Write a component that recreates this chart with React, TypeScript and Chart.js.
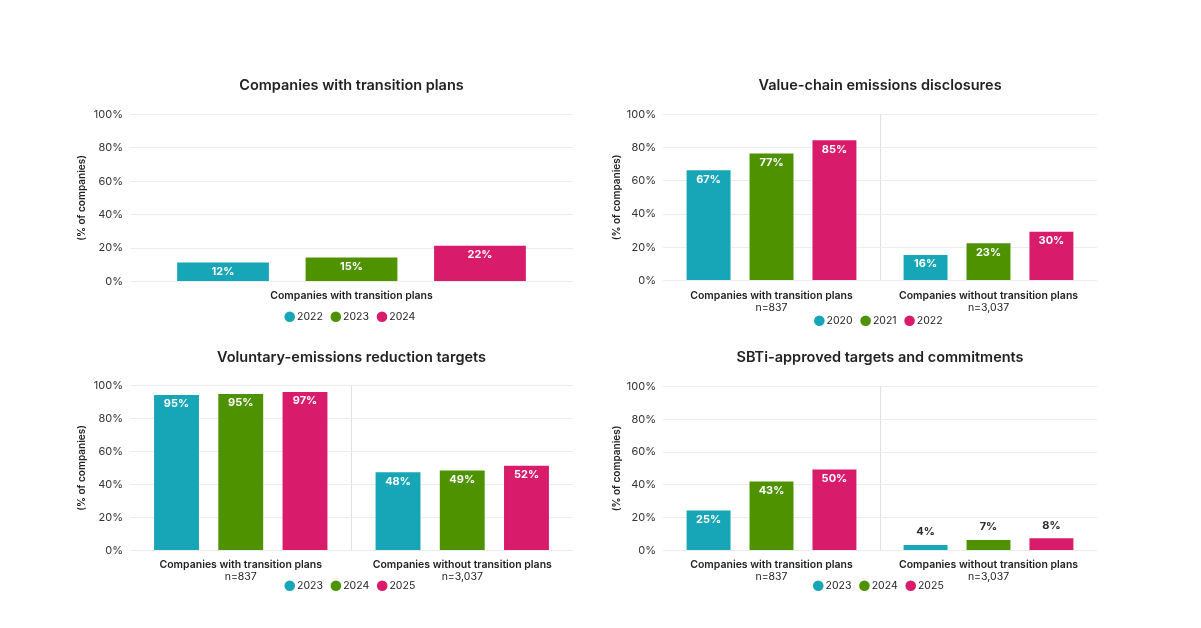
import React, { useEffect, useRef } from 'react';
import { Chart, registerables } from 'chart.js';
import type { Plugin } from 'chart.js';

Chart.register(...registerables);
Chart.defaults.font.family = 'Inter, "Noto Sans", sans-serif';

// colours per year slot (first, second, third year)
const yearColors = ['#17A5B8', '#4E9200', '#D81B6A'];
const yTicks = [0, 20, 40, 60, 80, 100];

const oneCategory = ['Companies with transition plans'];
const twoCategories = ['Companies with transition plans', 'Companies without transition plans'];
const sampleSizes = ['n=837', 'n=3,037'];

// Companies with transition plans
const plansYears = ['2022', '2023', '2024'];
const plans2022 = [12];
const plans2023 = [15];
const plans2024 = [22];

// Value-chain emissions disclosures
const valueChainYears = ['2020', '2021', '2022'];
const valueChain2020 = [67, 16];
const valueChain2021 = [77, 23];
const valueChain2022 = [85, 30];

// Voluntary-emissions reduction targets
const reductionYears = ['2023', '2024', '2025'];
const reduction2023 = [94.8, 48];
const reduction2024 = [95.4, 49];
const reduction2025 = [96.6, 52];

// SBTi-approved targets and commitments
const sbtiYears = ['2023', '2024', '2025'];
const sbti2023 = [25, 4];
const sbti2024 = [42.6, 7];
const sbti2025 = [50, 8];

const valueLabels: Plugin<'bar'> = {
    id: 'valueLabels',
    afterDatasetsDraw(chart) {
        const ctx = chart.ctx;
        ctx.save();
        ctx.font = 'bold 11px Inter, sans-serif';
        ctx.textAlign = 'center';
        ctx.textBaseline = 'middle';
        chart.data.datasets.forEach((ds, i) => {
            chart.getDatasetMeta(i).data.forEach((bar: any, j) => {
                const v = ds.data[j] as number;
                const inside = v >= 10;
                ctx.fillStyle = inside ? '#ffffff' : '#2b2b2b';
                ctx.fillText(Math.round(v) + '%', bar.x, inside ? bar.y + 10 : bar.y - 12);
            });
        });
        ctx.restore();
    }
};

// two-line category labels: bold name, plain sample size
const categoryLabels: Plugin<'bar'> = {
    id: 'categoryLabels',
    afterDraw(chart, _args, opts: any) {
        const ctx = chart.ctx;
        const x = chart.scales.x;
        ctx.save();
        ctx.textAlign = 'center';
        ctx.textBaseline = 'middle';
        ctx.fillStyle = '#222';
        (opts.names as string[]).forEach((name, i) => {
            const px = x.getPixelForTick(i);
            ctx.font = '600 10.5px Inter, sans-serif';
            ctx.fillText(name, px, x.top + opts.first);
            if (opts.notes && opts.notes[i]) {
                ctx.font = '10.5px Inter, sans-serif';
                ctx.fillText(opts.notes[i], px, x.top + opts.first + 12);
            }
        });
        ctx.restore();
    }
};

interface PanelProps {
    title: string;
    categories: string[];
    notes?: string[];
    years: string[];
    series: number[][];
    left: number; top: number; width: number; height: number;
    titleTop: number; titleBottom: number;
    yWidth: number; yTitlePad: number;
    xHeight: number; labelOffset: number;
}

const Panel: React.FC<PanelProps> = (p) => {
    const canvasRef = useRef<HTMLCanvasElement | null>(null);

    useEffect(() => {
        const ctx = canvasRef.current?.getContext('2d');
        if (!ctx) return;
        const n = p.categories.length;
        const chart = new Chart(ctx, {
            type: 'bar',
            data: {
                labels: p.categories,
                datasets: p.years.map((y, i) => ({
                    label: y,
                    data: p.series[i],
                    backgroundColor: yearColors[i],
                    borderColor: 'rgba(255,255,255,0.35)',
                    borderWidth: 1,
                    categoryPercentage: 0.87,
                    barPercentage: 0.73
                }))
            },
            options: {
                animation: false,
                responsive: true,
                maintainAspectRatio: false,
                layout: { padding: 0 },
                plugins: {
                    title: {
                        display: true,
                        text: p.title,
                        color: '#222',
                        font: { size: 14.5, weight: 600 },
                        padding: { top: p.titleTop, bottom: p.titleBottom }
                    },
                    legend: {
                        position: 'bottom',
                        labels: {
                            usePointStyle: true,
                            pointStyle: 'circle',
                            boxWidth: 4,
                            boxHeight: 7.5,
                            padding: 11,
                            color: '#222',
                            font: { size: 10.5 },
                            generateLabels: (c) =>
                                Chart.defaults.plugins.legend.labels.generateLabels(c).map(l => ({
                                    ...l, lineWidth: 0, strokeStyle: l.fillStyle as string
                                }))
                        }
                    },
                    tooltip: { enabled: false },
                    categoryLabels: { names: p.categories, notes: p.notes, first: p.labelOffset }
                } as any,
                scales: {
                    x: {
                        ticks: { display: false },
                        border: { display: false },
                        grid: {
                            drawTicks: false,
                            color: (c: any) => (c.index > 0 && c.index < n ? '#e2dfe1' : 'transparent')
                        },
                        afterFit: (s: any) => { s.height = p.xHeight; }
                    },
                    y: {
                        min: 0,
                        max: 100,
                        afterBuildTicks: (s: any) => { s.ticks = yTicks.map(v => ({ value: v })); },
                        ticks: {
                            padding: 7,
                            color: '#333',
                            font: { size: 11 },
                            callback: (v: any) => v + '%'
                        },
                        border: { display: false },
                        grid: { drawTicks: false, color: '#ececec' },
                        title: {
                            display: true,
                            text: '(% of companies)',
                            color: '#222',
                            font: { size: 10, weight: 600 },
                            padding: { top: p.yTitlePad, bottom: 0 }
                        },
                        afterFit: (s: any) => { s.width = p.yWidth; }
                    },
                    // empty spacer on the right so title and legend centre on the plot
                    spacer: {
                        type: 'linear',
                        position: 'right',
                        ticks: { display: false },
                        grid: { display: false },
                        border: { display: false },
                        afterFit: (s: any) => { s.width = p.yWidth; }
                    }
                }
            } as any,
            plugins: [valueLabels, categoryLabels]
        });
        return () => chart.destroy();
    }, []);

    return (
        <div style={{ position: 'absolute', left: p.left, top: p.top, width: p.width, height: p.height }}>
            <canvas ref={canvasRef} />
        </div>
    );
};

const App: React.FC = () => {
    return (
        <div style={{ position: 'fixed', left: 0, top: 0, width: 1201, height: 628, background: '#fff' }}>
            <Panel
                title="Companies with transition plans"
                categories={oneCategory}
                years={plansYears}
                series={[plans2022, plans2023, plans2024]}
                left={60} top={61} width={583} height={271}
                titleTop={16} titleBottom={20}
                yWidth={70} yTitlePad={16}
                xHeight={19} labelOffset={14}
            />
            <Panel
                title="Value-chain emissions disclosures"
                categories={twoCategories}
                notes={sampleSizes}
                years={valueChainYears}
                series={[valueChain2020, valueChain2021, valueChain2022]}
                left={600} top={61} width={560} height={275}
                titleTop={16} titleBottom={20}
                yWidth={63} yTitlePad={11}
                xHeight={24} labelOffset={15}
            />
            <Panel
                title="Voluntary-emissions reduction targets"
                categories={twoCategories}
                notes={sampleSizes}
                years={reductionYears}
                series={[reduction2023, reduction2024, reduction2025]}
                left={60} top={330} width={583} height={271}
                titleTop={19} titleBottom={19}
                yWidth={70} yTitlePad={16}
                xHeight={19} labelOffset={14}
            />
            <Panel
                title="SBTi-approved targets and commitments"
                categories={twoCategories}
                notes={sampleSizes}
                years={sbtiYears}
                series={[sbti2023, sbti2024, sbti2025]}
                left={600} top={330} width={560} height={271}
                titleTop={19} titleBottom={20}
                yWidth={63} yTitlePad={11}
                xHeight={19} labelOffset={14}
            />
        </div>
    );
};

export default App;
